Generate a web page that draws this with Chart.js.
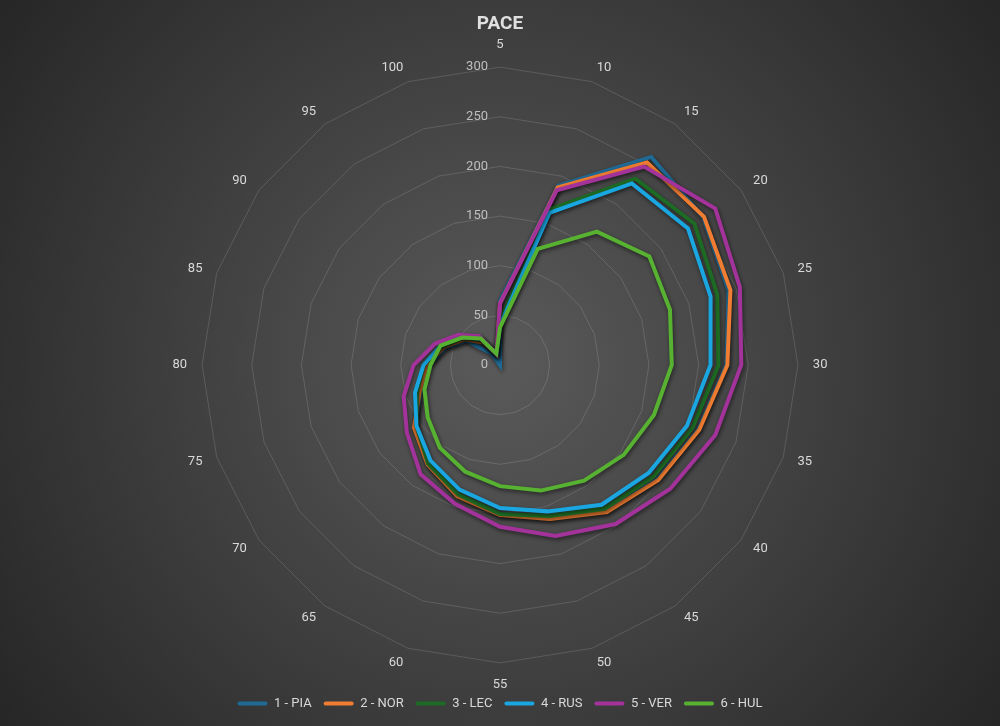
<!DOCTYPE html>
<html>
<head>
<meta charset="utf-8">
<title>PACE</title>
<script src="https://cdn.jsdelivr.net/npm/chart.js@4.4.1/dist/chart.umd.min.js"></script>
<style>
  html, body { margin: 0; padding: 0; }
  #wrap {
    width: 1000px;
    height: 726px;
    position: relative;
    background: radial-gradient(circle farthest-corner at 50% 50%, #5a5a5a 0%, #262626 100%);
  }
</style>
</head>
<body>
<div id="wrap"><canvas id="myChart"></canvas></div>
<script>
// categorias (vuelta %) y datos por piloto
var categories = ["5", "10", "15", "20", "25", "30", "35", "40", "45", "50",
                  "55", "60", "65", "70", "75", "80", "85", "90", "95", "100"];

var pia = [65, 190, 259, 253, 242, 228, 210, 196, 182, 162, 150, 138, 123, 106, 84, 72, 57, 42, 14, 0];
var nor = [62, 188, 252, 254, 244, 229, 211, 197, 183, 163, 151, 139, 124, 107, 85, 74, 59, 44, 28, 11];
var lec = [44, 165, 232, 242, 230, 220, 204, 191, 179, 160, 150, 137, 123, 104, 88, 77, 61, 46, 31, 12];
var rus = [40, 161, 226, 234, 223, 212, 198, 185, 174, 155, 144, 132, 119, 104, 90, 77, 63, 48, 33, 12];
var ver = [62, 185, 247, 268, 254, 243, 228, 212, 198, 181, 163, 147, 136, 116, 102, 87, 69, 52, 36, 12];
var hul = [38, 123, 166, 186, 180, 173, 163, 154, 144, 133, 122, 113, 103, 90, 80, 70, 63, 47, 33, 12];

var tickLabels = [0, 50, 100, 150, 200, 250, 300];

Chart.defaults.font.family = "Roboto, 'Liberation Sans', sans-serif";

function serie(label, data, color, order) {
  return {
    label: label,
    data: data,
    borderColor: color,
    backgroundColor: color,
    borderWidth: 4,
    fill: false,
    pointRadius: 0,
    order: order // el primero queda debajo, como en Excel
  };
}

// texto de los ticks a la izquierda del eje + sombra de las lineas
var radarExtras = {
  id: "radarExtras",
  beforeDatasetsDraw: function (chart) {
    var ctx = chart.ctx;
    var scale = chart.scales.r;
    ctx.save();
    ctx.font = "13px Roboto, 'Liberation Sans', sans-serif";
    ctx.fillStyle = "#bfbfbf";
    ctx.textAlign = "right";
    ctx.textBaseline = "middle";
    tickLabels.forEach(function (v) {
      ctx.fillText(String(v), scale.xCenter - 12, scale.yCenter - scale.getDistanceFromCenterForValue(v));
    });
    ctx.restore();

    ctx.save();
    ctx.shadowColor = "rgba(0, 0, 0, 0.55)";
    ctx.shadowBlur = 4;
    ctx.shadowOffsetX = 1;
    ctx.shadowOffsetY = 2;
  },
  afterDatasetsDraw: function (chart) {
    chart.ctx.restore();
  }
};

var ctx = document.getElementById("myChart").getContext("2d");
var chart = new Chart(ctx, {
  type: "radar",
  data: {
    labels: categories,
    datasets: [
      serie("1 - PIA", pia, "#1f6b96", 6),
      serie("2 - NOR", nor, "#f07d32", 5),
      serie("3 - LEC", lec, "#1d6b24", 4),
      serie("4 - RUS", rus, "#1aa6e0", 3),
      serie("5 - VER", ver, "#a3339b", 2),
      serie("6 - HUL", hul, "#58b232", 1)
    ]
  },
  options: {
    responsive: true,
    maintainAspectRatio: false,
    animation: false,
    layout: { padding: { bottom: 6 } },
    elements: { line: { tension: 0 } },
    scales: {
      r: {
        min: 0,
        max: 300,
        ticks: { stepSize: 50, display: false },
        grid: { color: "rgba(255, 255, 255, 0.14)", lineWidth: 1 },
        angleLines: { display: false },
        pointLabels: {
          color: "#d9d9d9",
          font: { size: 13, lineHeight: 0.01 }, // etiquetas centradas en su punto
          // arriba y abajo (5 y 55) van un poco mas lejos
          padding: function (c) { return c.index % 10 === 0 ? 22 : 15; }
        }
      }
    },
    plugins: {
      tooltip: { enabled: false },
      title: {
        display: true,
        text: "PACE",
        color: "#e0e0e0",
        font: { size: 19, weight: "bold" },
        padding: { top: 13, bottom: 9.2 }
      },
      legend: {
        position: "bottom",
        reverse: true,
        labels: {
          color: "#d9d9d9",
          font: { size: 13 },
          boxWidth: 30,
          boxHeight: 4,
          padding: 12,
          generateLabels: function (c) {
            return Chart.defaults.plugins.legend.labels.generateLabels(c).map(function (it) {
              it.lineWidth = 0;
              it.borderRadius = 2;
              return it;
            });
          }
        }
      }
    }
  },
  plugins: [radarExtras]
});
</script>
</body>
</html>
